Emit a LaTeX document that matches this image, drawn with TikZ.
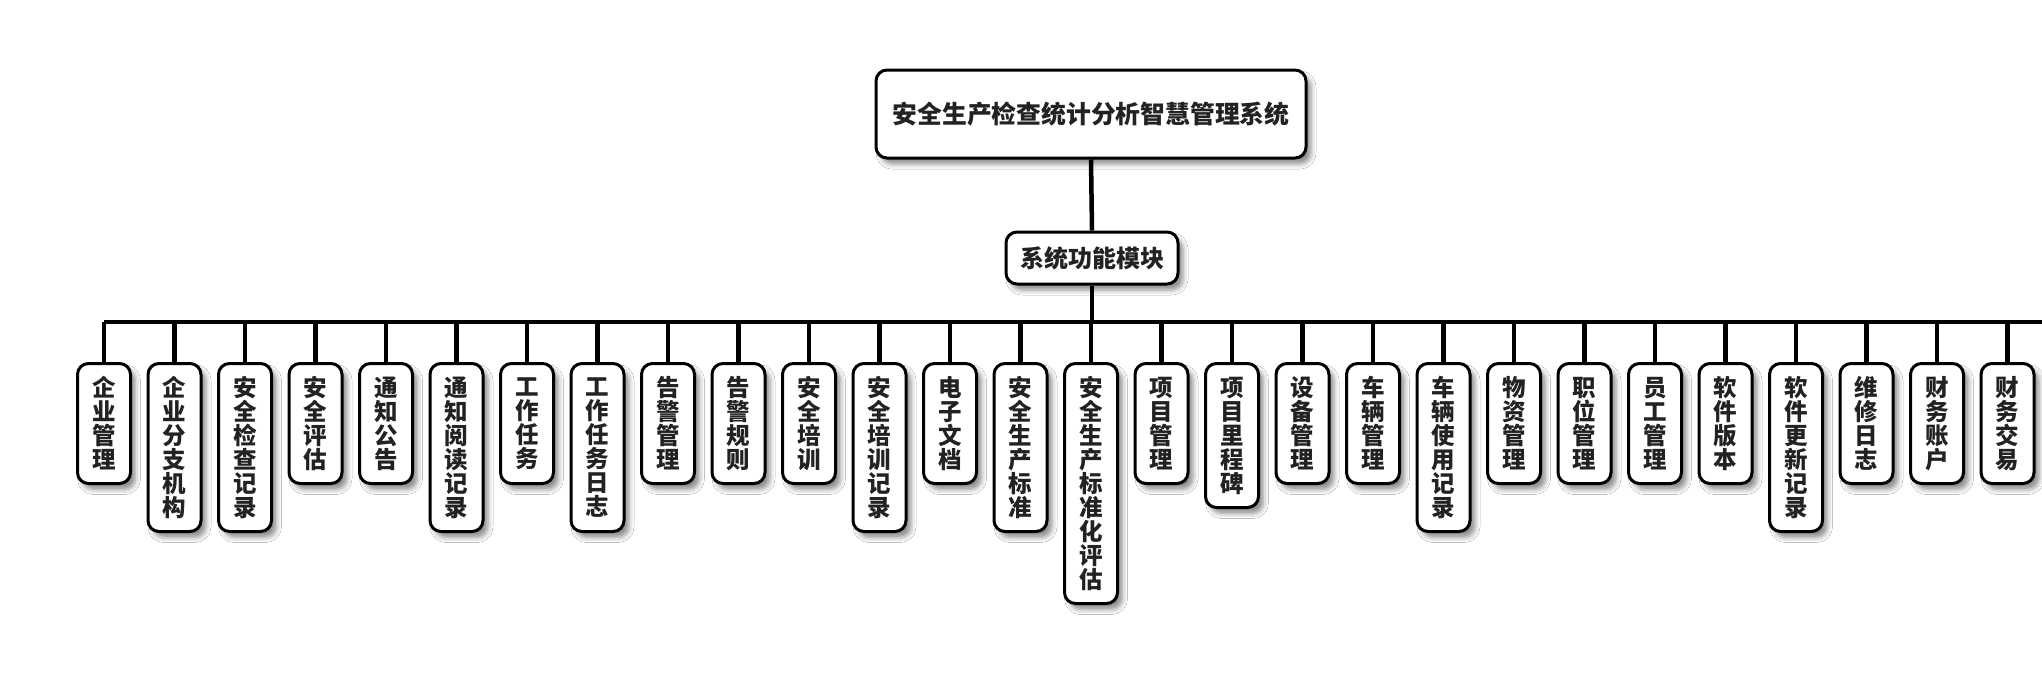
\documentclass[tikz,border=0pt]{standalone}
\usepackage{fontspec}
\newfontfamily\cjk{Noto Sans CJK SC}
\usetikzlibrary{shadows.blur}
\definecolor{txt}{HTML}{222222}
\tikzset{
  box/.style={draw=black, line width=3pt, fill=white, rounded corners=11pt,
    blur shadow={shadow xshift=5pt, shadow yshift=-6pt, shadow blur radius=5pt, shadow opacity=45},
    text=txt, font=\cjk\bfseries, inner sep=0pt, align=center},
  rootbox/.style={box, minimum width=430pt, minimum height=88pt, font=\cjk\bfseries\fontsize{24.8}{28}\selectfont},
  midbox/.style={box, minimum width=172pt, minimum height=52pt, font=\cjk\bfseries\fontsize{24}{26}\selectfont},
  leafbox/.style={box, minimum width=53pt, anchor=north, font=\cjk\bfseries\fontsize{23.5}{24}\selectfont},
  conn/.style={line width=4.5pt, draw=black}
}
\begin{document}
\begin{tikzpicture}[x=1pt,y=-1pt]
\useasboundingbox (0,0) rectangle (2042,681);
\fill[white] (0,0) rectangle (2042,681);
\node[rootbox] (root) at (1091,114) {安全生产检查统计分析智慧管理系统};
\node[midbox] (mid) at (1092,258) {系统功能模块};
\coordinate (busL) at (104,322);
\coordinate (busR) at (2042,322);
\draw[conn] (root.south) -- (mid.north);
\draw[conn] (mid.south) -- (mid.south |- busL);
\draw[conn, line cap=butt] (busL) -- (busR);
\foreach \t/\n [count=\i] in {
 {企\\业\\管\\理}/4,
 {企\\业\\分\\支\\机\\构}/6,
 {安\\全\\检\\查\\记\\录}/6,
 {安\\全\\评\\估}/4,
 {通\\知\\公\\告}/4,
 {通\\知\\阅\\读\\记\\录}/6,
 {工\\作\\任\\务}/4,
 {工\\作\\任\\务\\日\\志}/6,
 {告\\警\\管\\理}/4,
 {告\\警\\规\\则}/4,
 {安\\全\\培\\训}/4,
 {安\\全\\培\\训\\记\\录}/6,
 {电\\子\\文\\档}/4,
 {安\\全\\生\\产\\标\\准}/6,
 {安\\全\\生\\产\\标\\准\\化\\评\\估}/9,
 {项\\目\\管\\理}/4,
 {项\\目\\里\\程\\碑}/5,
 {设\\备\\管\\理}/4,
 {车\\辆\\管\\理}/4,
 {车\\辆\\使\\用\\记\\录}/6,
 {物\\资\\管\\理}/4,
 {职\\位\\管\\理}/4,
 {员\\工\\管\\理}/4,
 {软\\件\\版\\本}/4,
 {软\\件\\更\\新\\记\\录}/6,
 {维\\修\\日\\志}/4,
 {财\\务\\账\\户}/4,
 {财\\务\\交\\易}/4}
{
  \pgfmathsetmacro{\xx}{104+(\i-1)*70.5}
  \pgfmathsetmacro{\hh}{24*\n+24}
  \node[leafbox, minimum height=\hh pt] (l\i) at (\xx,362) {\t};
  \draw[conn] (l\i.north) -- (l\i.north |- busL);
}
\end{tikzpicture}
\end{document}
